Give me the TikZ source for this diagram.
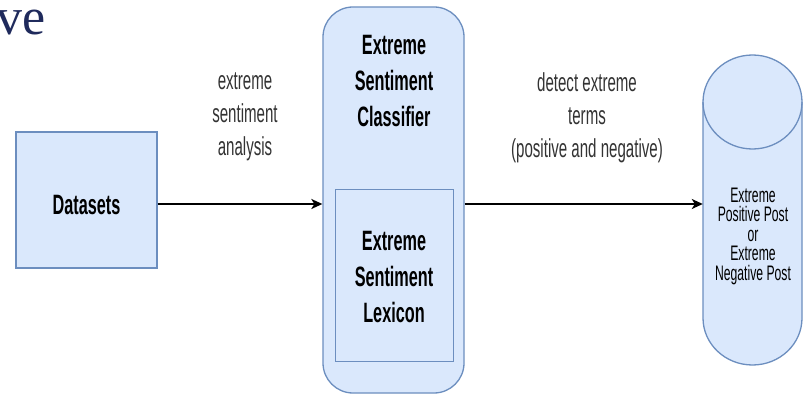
\documentclass[tikz,border=0pt]{standalone}
\usepackage{fontspec}
\setmainfont{Liberation Sans}
\newfontfamily\nar[FakeStretch=0.58]{Liberation Sans}
\newfontfamily\ttl{Liberation Serif}
\usetikzlibrary{arrows.meta}
\definecolor{bfill}{HTML}{DAE8FC}
\definecolor{bdraw}{HTML}{6C8EBF}
\definecolor{navy}{HTML}{1F2A5C}
\definecolor{lbl}{HTML}{333333}
\tikzset{
  boxst/.style={draw=bdraw, fill=bfill, line width=1.3pt, inner sep=0pt},
  btext/.style={font=\nar\bfseries\fontsize{28}{36}\selectfont, align=center, text=black},
  ltext/.style={font=\nar\fontsize{26}{33}\selectfont, align=center, text=lbl},
  arr/.style={line width=1.9pt, -{Stealth[length=11pt,width=10pt,inset=3pt]}},
}
\begin{document}
\begin{tikzpicture}[x=1pt,y=-1pt]
\useasboundingbox[fill=white] (0,0) rectangle (803,395);
% title fragment
\node[anchor=base east, inner sep=0pt, text=navy, font=\ttl\fontsize{52}{52}\selectfont] (title) at (46,35) {ve};
% datasets
\node[boxst, minimum width=141pt, minimum height=136pt] (ds) at (86.5,200) {};
\node[btext] (dst) at ([yshift=-5pt]ds.center) {Datasets};
% classifier
\node[boxst, rounded corners=30pt, minimum width=141pt, minimum height=386pt] (cls) at (393.5,200) {};
\node[btext] (clst) at (394,81) {Extreme\\Sentiment\\Classifier};
\node[boxst, line width=1pt, minimum width=118pt, minimum height=171pt] (lex) at (394,275.5) {};
\node[btext] (lext) at ([yshift=-2pt]lex.center) {Extreme\\Sentiment\\Lexicon};
% cylinder
\node[minimum width=99pt, minimum height=310pt, inner sep=0pt] (cyl) at (752.5,210) {};
\draw[boxst] (703,102) .. controls (703,76) and (725.2,55) .. (752.5,55)
  .. controls (779.8,55) and (802,76) .. (802,102)
  -- (802,318) .. controls (802,344) and (779.8,365) .. (752.5,365)
  .. controls (725.2,365) and (703,344) .. (703,318) -- cycle;
\draw[draw=bdraw, line width=1.3pt] (703,102) .. controls (703,128) and (725.2,149) .. (752.5,149)
  .. controls (779.8,149) and (802,128) .. (802,102);
\node[font=\nar\fontsize{21}{19.5}\selectfont, align=center] (cylt) at (753,236) {Extreme\\Positive Post\\or\\Extreme\\Negative Post};
% labels
\node[ltext] (l1) at (245,117) {extreme\\sentiment\\analysis};
\node[ltext] (l2) at (587,118) {detect extreme\\terms\\(positive and negative)};
% arrows
\draw[arr] ([yshift=-4pt]ds.east) -- ([yshift=-4pt]ds.east -| cls.west);
\draw[arr] ([yshift=-4pt]cls.east) -- ([yshift=-4pt]cls.east -| cyl.west);
\end{tikzpicture}
\end{document}
